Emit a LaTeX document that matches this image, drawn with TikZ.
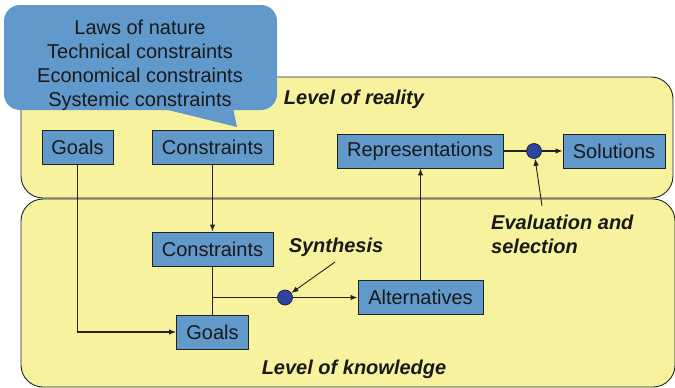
\documentclass[tikz,border=0pt]{standalone}
\usepackage{fontspec}
\setmainfont{Liberation Sans}
\usetikzlibrary{arrows.meta}
\definecolor{panelyellow}{HTML}{F7F29E}
\definecolor{boxblue}{HTML}{6199CB}
\definecolor{calloutblue}{HTML}{6299CC}
\definecolor{dotblue}{HTML}{2E43A0}
\definecolor{inkgray}{HTML}{222222}
\tikzset{
  panel/.style={draw=inkgray, line width=0.9pt, fill=panelyellow, rounded corners=22pt},
  stepbox/.style={draw=inkgray, line width=0.9pt, fill=boxblue, inner sep=0pt,
    font=\fontsize{20}{22}\selectfont, text=black!90},
  junction/.style={circle, draw=inkgray, line width=0.7pt, fill=dotblue, minimum size=15pt, inner sep=0pt},
  lvl/.style={font=\fontsize{20}{24}\selectfont\bfseries\itshape, text=black!90, inner sep=0pt},
  flow/.style={draw=inkgray, line width=1.2pt},
  arr/.style={flow, -{Latex[length=7pt,width=5.5pt]}},
}
\begin{document}
\begin{tikzpicture}[x=1pt,y=-1pt]
\useasboundingbox (0,0) rectangle (675,388);

% two levels
\path[panel] (21,77) rectangle (673,198);
\path[panel] (21,199) rectangle (675,387);

% callout bubble with its pointer
\fill[calloutblue, rounded corners=16pt] (4,5) rectangle (277,110);
\fill[calloutblue] (160,108) -- (237,127) -- (233,108) -- cycle;
\node[align=center, inner sep=0pt, font=\fontsize{20}{24}\selectfont, text=black!90]
  (callout) at (140,65) {Laws of nature\\Technical constraints\\Economical constraints\\Systemic constraints};

% level labels
\node[lvl] (reality) at (354,99) {Level of reality};
\node[lvl] (knowledge) at (354,369) {Level of knowledge};

% boxes
\node[stepbox, minimum width=71pt, minimum height=34pt] (goalsR) at (77.5,147.5) {Goals};
\node[stepbox, minimum width=121pt, minimum height=34pt] (consR) at (212.5,147.5) {Constraints};
\node[stepbox, minimum width=166pt, minimum height=34pt] (rep) at (420,151) {Representations};
\node[stepbox, minimum width=102pt, minimum height=34pt] (sol) at (614,151) {Solutions};
\node[stepbox, minimum width=121pt, minimum height=34pt] (consK) at (212.5,249) {Constraints};
\node[stepbox, minimum width=72pt, minimum height=34pt] (goalsK) at (212.5,332) {Goals};
\node[stepbox, minimum width=125pt, minimum height=34pt] (alt) at (420.5,297.5) {Alternatives};

% junction dots
\node[junction] (eval) at (534,151) {};
\node[junction] (syn) at (285,297.5) {};

% process labels
\node[lvl, anchor=center] (synlabel) at (336,247) {Synthesis};
\node[lvl, anchor=north west, align=left] (evallabel) at (491,215) {Evaluation and\\selection};

\coordinate (split) at (consK.south |- syn);
\coordinate (syntail) at (335,262);
\coordinate (evaltail) at (542,206);

% connectors
\draw[arr] (goalsR.south) |- (goalsK.west);
\draw[arr] (consR.south) -- (consK.north);
\draw[flow] (consK.south) -- (goalsK.north);
\draw[flow] (split) -- (syn);
\draw[arr] (syn) -- (alt.west);
\draw[arr] (alt.north) -- (alt.north |- rep.south);
\draw[flow] (rep.east) -- (eval);
\draw[arr] (eval) -- (sol.west);
\draw[arr, line width=0.9pt] (syntail) -- (syn);
\draw[arr, line width=0.9pt] (evaltail) -- (eval);
\end{tikzpicture}
\end{document}
